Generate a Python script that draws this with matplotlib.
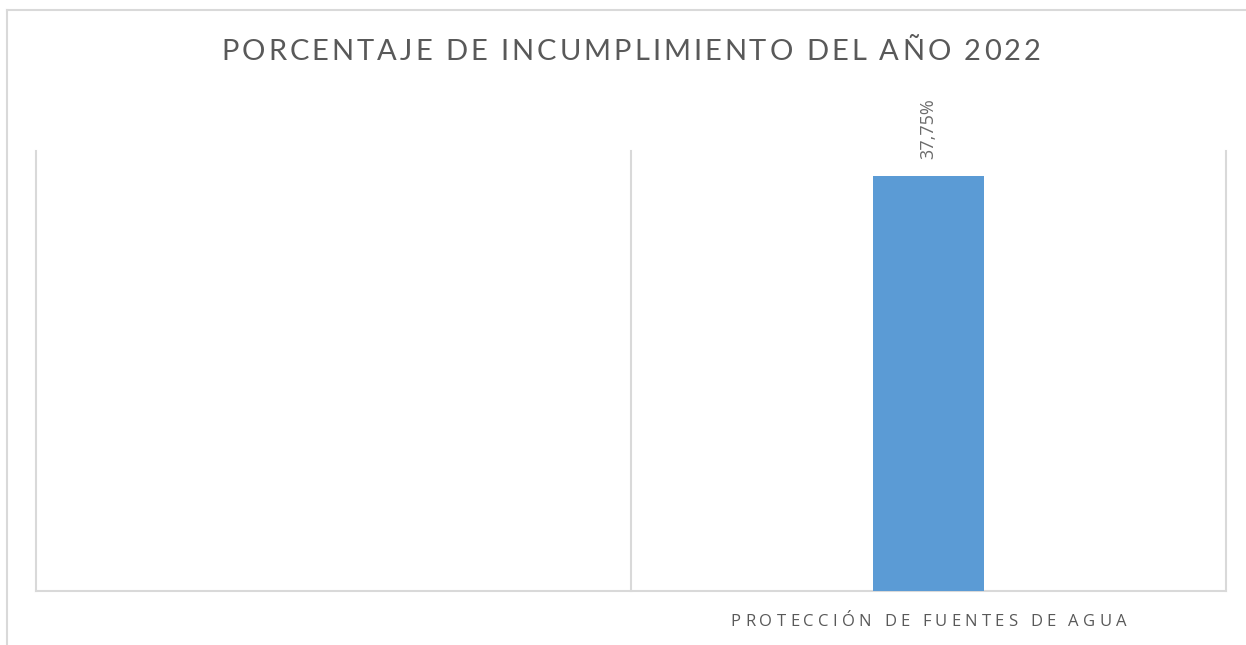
import matplotlib
matplotlib.use('agg')
import matplotlib.pyplot as plt
import numpy as np
from matplotlib.lines import Line2D
from matplotlib.transforms import IdentityTransform

### data
title = 'PORCENTAJE DE INCUMPLIMIENTO DEL AÑO 2022'
categories = ['', 'PROTECCIÓN DE FUENTES DE AGUA']
values = [np.nan, 37.75]
value_labels = ['', '37,75%']

### style
W, H = 1246, 645
dpi = 100
textcolor = '#595959'
gridcolor = '#d9d9d9'
barcolor = '#5b9bd5'
titlefont = dict(family=['Lato', 'DejaVu Sans'], weight='normal', size=21, color=textcolor)
labelfont = dict(family=['Open Sans', 'DejaVu Sans'], size=12, color=textcolor)

fig = plt.figure(figsize=(W/dpi, H/dpi), dpi=dpi)
ax = fig.add_axes([36/W, 54/H, 1190/W, 440/H])

x = np.arange(len(categories))
ax.bar(x, values, width=0.185, color=barcolor, zorder=3)
ax.set_xlim(-0.5, len(categories) - 0.5)
ax.set_ylim(0, 40)

# vertical separators between categories
ax.set_xticks(np.arange(len(categories) + 1) - 0.5, minor=True)
ax.set_xticks([])
ax.set_yticks([])
ax.grid(which='minor', axis='x', color=gridcolor, linewidth=1.5)
for t in ax.xaxis.get_minor_ticks():
    t.gridline.set_clip_on(False)
for s in ('top', 'left', 'right'):
    ax.spines[s].set_visible(False)
ax.spines['bottom'].set_color(gridcolor)
ax.spines['bottom'].set_linewidth(1.5)
ax.tick_params(which='both', length=0)

for xi, v, lab in zip(x, values, value_labels):
    if lab:
        ax.annotate(lab, (xi, v), xytext=(0, 12), textcoords='offset points',
                    rotation=90, ha='center', va='bottom', fontsize=13,
                    family=['Open Sans', 'DejaVu Sans'], color='#6b6b6b')

renderer = fig.canvas.get_renderer()

def char_width(ch, font):
    t1 = fig.text(0, 0, 'X' + ch + 'X', **font)
    t2 = fig.text(0, 0, 'XX', **font)
    w = t1.get_window_extent(renderer).width - t2.get_window_extent(renderer).width
    t1.remove()
    t2.remove()
    return w

def spaced_text(xc, ybase, s, spacing, font):
    # text with extra letter spacing, centred on xc (pixels), baseline at ybase
    widths = [char_width(ch, font) for ch in s]
    total = sum(widths) + spacing*(len(s) - 1)
    xpos = xc - total/2
    for ch, w in zip(s, widths):
        fig.text(xpos, ybase, ch, transform=IdentityTransform(),
                 ha='left', va='baseline', **font)
        xpos += w + spacing

# title
spaced_text(W/2 + 8, H - 60, title, 3.0, titlefont)

# category labels
for xi, cat in zip(x, categories):
    if cat:
        xc = ax.transData.transform((xi, 0))[0]
        spaced_text(xc, H - 626, cat, 4.2, labelfont)

# chart border (partly outside the picture)
fig.add_artist(Line2D([7/W, 1], [1 - 10/H, 1 - 10/H], color=gridcolor, linewidth=1.5))
fig.add_artist(Line2D([7/W, 7/W], [0, 1 - 10/H], color=gridcolor, linewidth=1.5))

fig.savefig('out.png', dpi=dpi)
